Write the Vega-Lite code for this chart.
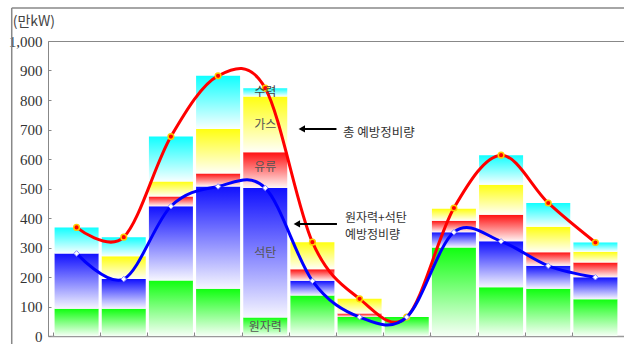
{
  "$schema": "https://vega.github.io/schema/vega-lite/v6.json",
  "width": 576,
  "height": 295,
  "autosize": "none",
  "padding": {"left": 48, "top": 41, "right": 0, "bottom": 8},
  "background": "white",
  "config": {"view": {"stroke": null}},
  "datasets": {
    "bars": [
      {"m": 1, "t": "원자력", "o": 1, "v": 92}, {"m": 1, "t": "석탄", "o": 2, "v": 188}, {"m": 1, "t": "수력", "o": 5, "v": 88},
      {"m": 2, "t": "원자력", "o": 1, "v": 92}, {"m": 2, "t": "석탄", "o": 2, "v": 101}, {"m": 2, "t": "가스", "o": 4, "v": 77}, {"m": 2, "t": "수력", "o": 5, "v": 65},
      {"m": 3, "t": "원자력", "o": 1, "v": 188}, {"m": 3, "t": "석탄", "o": 2, "v": 252}, {"m": 3, "t": "유류", "o": 3, "v": 33}, {"m": 3, "t": "가스", "o": 4, "v": 51}, {"m": 3, "t": "수력", "o": 5, "v": 152},
      {"m": 4, "t": "원자력", "o": 1, "v": 160}, {"m": 4, "t": "석탄", "o": 2, "v": 347}, {"m": 4, "t": "유류", "o": 3, "v": 44}, {"m": 4, "t": "가스", "o": 4, "v": 151}, {"m": 4, "t": "수력", "o": 5, "v": 180},
      {"m": 5, "t": "원자력", "o": 1, "v": 63}, {"m": 5, "t": "석탄", "o": 2, "v": 439}, {"m": 5, "t": "유류", "o": 3, "v": 121}, {"m": 5, "t": "가스", "o": 4, "v": 189}, {"m": 5, "t": "수력", "o": 5, "v": 28},
      {"m": 6, "t": "원자력", "o": 1, "v": 137}, {"m": 6, "t": "석탄", "o": 2, "v": 50}, {"m": 6, "t": "유류", "o": 3, "v": 39}, {"m": 6, "t": "가스", "o": 4, "v": 92},
      {"m": 7, "t": "원자력", "o": 1, "v": 64}, {"m": 7, "t": "유류", "o": 3, "v": 12}, {"m": 7, "t": "가스", "o": 4, "v": 50},
      {"m": 8, "t": "원자력", "o": 1, "v": 64},
      {"m": 9, "t": "원자력", "o": 1, "v": 300}, {"m": 9, "t": "석탄", "o": 2, "v": 52}, {"m": 9, "t": "유류", "o": 3, "v": 39}, {"m": 9, "t": "가스", "o": 4, "v": 40},
      {"m": 10, "t": "원자력", "o": 1, "v": 165}, {"m": 10, "t": "석탄", "o": 2, "v": 156}, {"m": 10, "t": "유류", "o": 3, "v": 90}, {"m": 10, "t": "가스", "o": 4, "v": 102}, {"m": 10, "t": "수력", "o": 5, "v": 100},
      {"m": 11, "t": "원자력", "o": 1, "v": 160}, {"m": 11, "t": "석탄", "o": 2, "v": 78}, {"m": 11, "t": "유류", "o": 3, "v": 46}, {"m": 11, "t": "가스", "o": 4, "v": 86}, {"m": 11, "t": "수력", "o": 5, "v": 81},
      {"m": 12, "t": "원자력", "o": 1, "v": 125}, {"m": 12, "t": "석탄", "o": 2, "v": 74}, {"m": 12, "t": "유류", "o": 3, "v": 50}, {"m": 12, "t": "가스", "o": 4, "v": 37}, {"m": 12, "t": "수력", "o": 5, "v": 31}
    ],
    "lines": [
      {"m": 1, "total": 368, "nc": 280},
      {"m": 2, "total": 335, "nc": 193},
      {"m": 3, "total": 676, "nc": 440},
      {"m": 4, "total": 882, "nc": 507},
      {"m": 5, "total": 840, "nc": 502},
      {"m": 6, "total": 318, "nc": 187},
      {"m": 7, "total": 126, "nc": 64},
      {"m": 8, "total": 64, "nc": 64},
      {"m": 9, "total": 434, "nc": 352},
      {"m": 10, "total": 613, "nc": 321},
      {"m": 11, "total": 451, "nc": 238},
      {"m": 12, "total": 317, "nc": 199}
    ],
    "one": [{}]
  },
  "resolve": {"axis": {"x": "independent", "y": "independent"}},
  "layer": [
    {
      "data": {"name": "bars"},
      "transform": [
        {"stack": "v", "groupby": ["m"], "sort": [{"field": "o", "order": "ascending"}], "as": ["v0", "v1"]},
        {"filter": {"field": "t", "equal": "원자력"}}
      ],
      "mark": {"type": "bar", "size": 44, "fill": {"gradient": "linear", "x1": 0, "y1": 0, "x2": 0, "y2": 1, "stops": [{"offset": 0, "color": "#10ff10"}, {"offset": 1, "color": "#f6fff6"}]}},
      "encoding": {
        "x": {"field": "m", "type": "quantitative",
          "scale": {"domain": [0.5, 12.5], "nice": false, "zero": false},
          "axis": {"orient": "bottom", "values": [0.5,1.5,2.5,3.5,4.5,5.5,6.5,7.5,8.5,9.5,10.5,11.5], "labels": false, "title": null, "tickSize": -4, "tickColor": "#888", "tickWidth": 1, "domainColor": "#999", "domainWidth": 1.5, "grid": false}},
        "y": {"field": "v0", "type": "quantitative",
          "scale": {"domain": [0, 1000], "nice": false},
          "axis": {"orient": "left", "values": [0,100,200,300,400,500,600,700,800,900,1000], "format": ",.0f", "grid": false, "ticks": true, "tickSize": -3, "tickColor": "#888", "domain": true, "domainColor": "#888", "labelPadding": 9, "labelFont": "Liberation Sans Narrow", "labelFontSize": 15, "labelColor": "#333", "title": null}},
        "y2": {"field": "v1"}
      }
    },
    {
      "data": {"name": "bars"},
      "transform": [
        {"stack": "v", "groupby": ["m"], "sort": [{"field": "o", "order": "ascending"}], "as": ["v0", "v1"]},
        {"filter": {"field": "t", "equal": "석탄"}}
      ],
      "mark": {"type": "bar", "size": 44, "fill": {"gradient": "linear", "x1": 0, "y1": 0, "x2": 0, "y2": 1, "stops": [{"offset": 0, "color": "#1010ff"}, {"offset": 1, "color": "#f6f6ff"}]}},
      "encoding": {
        "x": {"field": "m", "type": "quantitative", "axis": null},
        "y": {"field": "v0", "type": "quantitative", "axis": null},
        "y2": {"field": "v1"}
      }
    },
    {
      "data": {"name": "bars"},
      "transform": [
        {"stack": "v", "groupby": ["m"], "sort": [{"field": "o", "order": "ascending"}], "as": ["v0", "v1"]},
        {"filter": {"field": "t", "equal": "유류"}}
      ],
      "mark": {"type": "bar", "size": 44, "fill": {"gradient": "linear", "x1": 0, "y1": 0, "x2": 0, "y2": 1, "stops": [{"offset": 0, "color": "#ff1010"}, {"offset": 1, "color": "#fff6f6"}]}},
      "encoding": {
        "x": {"field": "m", "type": "quantitative", "axis": null},
        "y": {"field": "v0", "type": "quantitative", "axis": null},
        "y2": {"field": "v1"}
      }
    },
    {
      "data": {"name": "bars"},
      "transform": [
        {"stack": "v", "groupby": ["m"], "sort": [{"field": "o", "order": "ascending"}], "as": ["v0", "v1"]},
        {"filter": {"field": "t", "equal": "가스"}}
      ],
      "mark": {"type": "bar", "size": 44, "fill": {"gradient": "linear", "x1": 0, "y1": 0, "x2": 0, "y2": 1, "stops": [{"offset": 0, "color": "#ffff10"}, {"offset": 1, "color": "#fffff8"}]}},
      "encoding": {
        "x": {"field": "m", "type": "quantitative", "axis": null},
        "y": {"field": "v0", "type": "quantitative", "axis": null},
        "y2": {"field": "v1"}
      }
    },
    {
      "data": {"name": "bars"},
      "transform": [
        {"stack": "v", "groupby": ["m"], "sort": [{"field": "o", "order": "ascending"}], "as": ["v0", "v1"]},
        {"filter": {"field": "t", "equal": "수력"}}
      ],
      "mark": {"type": "bar", "size": 44, "fill": {"gradient": "linear", "x1": 0, "y1": 0, "x2": 0, "y2": 1, "stops": [{"offset": 0, "color": "#10ffff"}, {"offset": 1, "color": "#f8ffff"}]}},
      "encoding": {
        "x": {"field": "m", "type": "quantitative", "axis": null},
        "y": {"field": "v0", "type": "quantitative", "axis": null},
        "y2": {"field": "v1"}
      }
    },
    {
      "data": {"name": "lines"},
      "mark": {"type": "line", "interpolate": "cardinal", "stroke": "#ff0000", "strokeWidth": 3},
      "encoding": {
        "x": {"field": "m", "type": "quantitative", "axis": null},
        "y": {"field": "total", "type": "quantitative", "axis": null}
      }
    },
    {
      "data": {"name": "lines"},
      "mark": {"type": "point", "shape": "circle", "size": 32, "filled": true, "fill": "#ff0000", "stroke": "#ffcc00", "strokeWidth": 1.5, "opacity": 1},
      "encoding": {
        "x": {"field": "m", "type": "quantitative", "axis": null},
        "y": {"field": "total", "type": "quantitative", "axis": null}
      }
    },
    {
      "data": {"name": "lines"},
      "mark": {"type": "line", "interpolate": "cardinal", "stroke": "#0000ff", "strokeWidth": 3},
      "encoding": {
        "x": {"field": "m", "type": "quantitative", "axis": null},
        "y": {"field": "nc", "type": "quantitative", "axis": null}
      }
    },
    {
      "data": {"name": "lines"},
      "mark": {"type": "point", "shape": "diamond", "size": 30, "filled": true, "fill": "#ffffff", "stroke": "#8888ff", "strokeWidth": 1, "opacity": 1},
      "encoding": {
        "x": {"field": "m", "type": "quantitative", "axis": null},
        "y": {"field": "nc", "type": "quantitative", "axis": null}
      }
    },
    {
      "data": {"name": "one"},
      "mark": {"type": "rule", "stroke": "#888", "strokeWidth": 1.5},
      "encoding": {
        "x": {"datum": -0.375, "type": "quantitative",
          "axis": {"orient": "top", "values": [], "labels": false, "ticks": false, "grid": false, "title": null, "domain": true, "domainColor": "#888", "domainWidth": 1}},
        "x2": {"datum": 12.7},
        "y": {"datum": 1112, "type": "quantitative", "axis": null}
      }
    },
    {
      "data": {"name": "one"},
      "mark": {"type": "rule", "stroke": "#888", "strokeWidth": 1.5},
      "encoding": {
        "x": {"datum": -0.375, "type": "quantitative", "axis": null},
        "y": {"datum": -40, "type": "quantitative", "axis": null},
        "y2": {"datum": 1112}
      }
    },
    {
      "data": {"name": "one"},
      "mark": {"type": "text", "font": "Liberation Sans Narrow, Noto Sans CJK KR", "fontSize": 14, "fill": "#444", "align": "left", "baseline": "middle"},
      "encoding": {"x": {"datum": -0.354, "type": "quantitative", "axis": null}, "y": {"datum": 1065, "type": "quantitative", "axis": null}, "text": {"value": "(만kW)"}}
    },
    {
      "data": {"name": "one"},
      "mark": {"type": "rule", "stroke": "#000", "strokeWidth": 2},
      "encoding": {
        "x": {"datum": 5.78, "type": "quantitative", "axis": null},
        "x2": {"datum": 6.51},
        "y": {"datum": 702, "type": "quantitative", "axis": null}
      }
    },
    {
      "data": {"name": "one"},
      "mark": {"type": "point", "shape": "triangle-left", "size": 55, "filled": true, "fill": "#000", "opacity": 1},
      "encoding": {
        "x": {"datum": 5.775, "type": "quantitative", "axis": null},
        "y": {"datum": 702, "type": "quantitative", "axis": null}
      }
    },
    {
      "data": {"name": "one"},
      "mark": {"type": "rule", "stroke": "#000", "strokeWidth": 2},
      "encoding": {
        "x": {"datum": 5.68, "type": "quantitative", "axis": null},
        "x2": {"datum": 6.52},
        "y": {"datum": 380, "type": "quantitative", "axis": null}
      }
    },
    {
      "data": {"name": "one"},
      "mark": {"type": "point", "shape": "triangle-left", "size": 55, "filled": true, "fill": "#000", "opacity": 1},
      "encoding": {
        "x": {"datum": 5.67, "type": "quantitative", "axis": null},
        "y": {"datum": 380, "type": "quantitative", "axis": null}
      }
    },
    {
      "data": {"name": "one"},
      "mark": {"type": "text", "font": "Noto Sans CJK KR", "fontSize": 12.5, "fill": "#333", "align": "left", "baseline": "middle"},
      "encoding": {"x": {"datum": 6.646, "type": "quantitative", "axis": null}, "y": {"datum": 689, "type": "quantitative", "axis": null}, "text": {"value": "총 예방정비량"}}
    },
    {
      "data": {"name": "one"},
      "mark": {"type": "text", "font": "Noto Sans CJK KR", "fontSize": 12, "fill": "#333", "align": "left", "baseline": "middle"},
      "encoding": {"x": {"datum": 6.69, "type": "quantitative", "axis": null}, "y": {"datum": 401, "type": "quantitative", "axis": null}, "text": {"value": "원자력+석탄"}}
    },
    {
      "data": {"name": "one"},
      "mark": {"type": "text", "font": "Noto Sans CJK KR", "fontSize": 12, "fill": "#333", "align": "left", "baseline": "middle"},
      "encoding": {"x": {"datum": 6.69, "type": "quantitative", "axis": null}, "y": {"datum": 341, "type": "quantitative", "axis": null}, "text": {"value": "예방정비량"}}
    },
    {
      "data": {"name": "one"},
      "mark": {"type": "text", "font": "Noto Sans CJK KR", "fontSize": 12, "fill": "#444", "align": "center", "baseline": "middle"},
      "encoding": {"x": {"datum": 5, "type": "quantitative", "axis": null}, "y": {"datum": 828, "type": "quantitative", "axis": null}, "text": {"value": "수력"}}
    },
    {
      "data": {"name": "one"},
      "mark": {"type": "text", "font": "Noto Sans CJK KR", "fontSize": 12, "fill": "#555", "align": "center", "baseline": "middle"},
      "encoding": {"x": {"datum": 5, "type": "quantitative", "axis": null}, "y": {"datum": 716, "type": "quantitative", "axis": null}, "text": {"value": "가스"}}
    },
    {
      "data": {"name": "one"},
      "mark": {"type": "text", "font": "Noto Sans CJK KR", "fontSize": 12, "fill": "#555", "align": "center", "baseline": "middle"},
      "encoding": {"x": {"datum": 5, "type": "quantitative", "axis": null}, "y": {"datum": 572, "type": "quantitative", "axis": null}, "text": {"value": "유류"}}
    },
    {
      "data": {"name": "one"},
      "mark": {"type": "text", "font": "Noto Sans CJK KR", "fontSize": 12, "fill": "#555", "align": "center", "baseline": "middle"},
      "encoding": {"x": {"datum": 5, "type": "quantitative", "axis": null}, "y": {"datum": 281, "type": "quantitative", "axis": null}, "text": {"value": "석탄"}}
    },
    {
      "data": {"name": "one"},
      "mark": {"type": "text", "font": "Noto Sans CJK KR", "fontSize": 12, "fill": "#555", "align": "center", "baseline": "middle"},
      "encoding": {"x": {"datum": 5, "type": "quantitative", "axis": null}, "y": {"datum": 32, "type": "quantitative", "axis": null}, "text": {"value": "원자력"}}
    }
  ]
}
